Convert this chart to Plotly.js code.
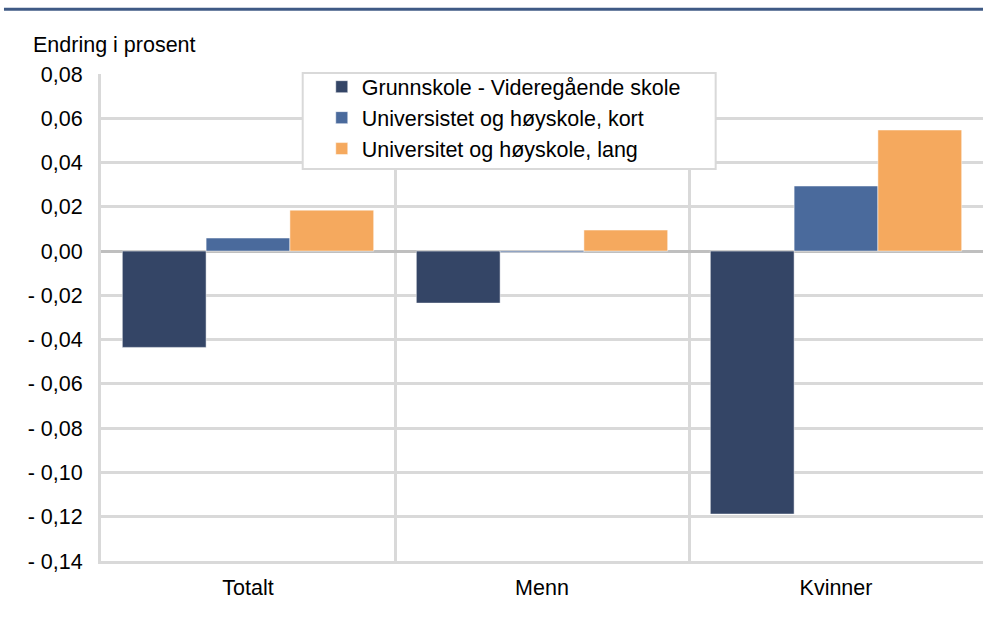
<!DOCTYPE html>
<html>
<head>
<meta charset="utf-8">
<script src="https://cdn.plot.ly/plotly-3.0.1.min.js"></script>
<style>html,body{margin:0;padding:0;background:#fff;}#chart{width:983px;height:617px;}</style>
</head>
<body>
<div id="chart"></div>
<script>
const categories = ["Totalt", "Menn", "Kvinner"];
const seriesNames = ["Grunnskole - Videregående skole", "Universistet og høyskole, kort", "Universitet og høyskole, lang"];
const grunnskole = [-0.0435, -0.0235, -0.1188];
const uniKort = [0.0059, -0.0005, 0.0294];
const uniLang = [0.0185, 0.0095, 0.0547];
const tickVals = [0.08, 0.06, 0.04, 0.02, 0, -0.02, -0.04, -0.06, -0.08, -0.10, -0.12, -0.14];
const tickText = ["0,08", "0,06", "0,04", "0,02", "0,00", "- 0,02", "- 0,04", "- 0,06", "- 0,08", "- 0,10", "- 0,12", "- 0,14"];
const colors = ["#344566", "#4a6a9c", "#f5a95e"];

const seriesValues = [grunnskole, uniKort, uniLang];
const traces = seriesValues.map((vals, i) => ({
  type: "bar",
  name: seriesNames[i],
  x: categories,
  y: vals,
  marker: {color: colors[i], line: {color: "#ffffff", width: 0.5}},
  hoverinfo: "skip"
}));

const font = "Liberation Sans, Arial, sans-serif";
const fs = 21.5;
const layout = {
  width: 983, height: 617,
  margin: {l: 101, r: 0, t: 74, b: 56},
  paper_bgcolor: "#ffffff", plot_bgcolor: "#ffffff",
  font: {family: font, size: fs, color: "#000000"},
  barmode: "group",
  bargap: 0.145, bargroupgap: 0,
  showlegend: true,
  legend: {
    x: 0.2503, y: 1.016, xanchor: "left", yanchor: "top",
    bgcolor: "rgba(0,0,0,0)", borderwidth: 0,
    font: {family: font, size: fs, color: "#000000"},
    tracegroupgap: 0
  },
  xaxis: {
    type: "category",
    tickson: "boundaries",
    showgrid: true, gridcolor: "#d9d9d9", gridwidth: 3,
    showline: true, linecolor: "#d9d9d9", linewidth: 3,
    ticks: "", ticklen: 0,
    tickfont: {family: font, size: fs},
    ticklabelstandoff: 5,
    zeroline: false,
    fixedrange: true
  },
  yaxis: {
    range: [-0.14, 0.08],
    tickvals: tickVals, ticktext: tickText,
    showgrid: true, gridcolor: "#d9d9d9", gridwidth: 3,
    zeroline: true, zerolinecolor: "#bfbfbf", zerolinewidth: 3,
    showline: true, linecolor: "#d9d9d9", linewidth: 3,
    ticks: "", ticklen: 0,
    tickfont: {family: font, size: fs},
    ticklabelstandoff: 11,
    fixedrange: true
  },
  annotations: [{
    text: "Endring i prosent",
    xref: "paper", yref: "paper",
    x: -0.0793, y: 1.0595, xanchor: "left", yanchor: "middle",
    showarrow: false,
    font: {family: font, size: fs, color: "#000000"}
  }],
  shapes: [{
    type: "line", xref: "paper", yref: "paper",
    x0: -0.11, x1: 1.0, y0: 1.133, y1: 1.133,
    line: {color: "#3f5a85", width: 3}
  }, {
    type: "rect", xref: "paper", yref: "paper", layer: "above",
    x0: 0.2287, x1: 0.6969, y0: 0.805, y1: 1.002,
    fillcolor: "#ffffff",
    line: {color: "#d9d9d9", width: 2}
  }]
};

Plotly.newPlot("chart", traces, layout, {displayModeBar: false, staticPlot: true});
</script>
</body>
</html>
